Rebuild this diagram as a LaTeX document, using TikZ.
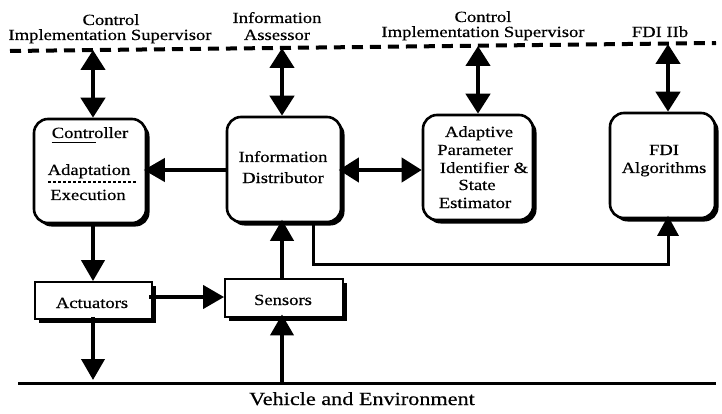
\documentclass[tikz,border=0pt]{standalone}
\usepackage{fontspec}
\setmainfont[FakeStretch=1.2,FakeBold=0.5]{Liberation Serif}
\usetikzlibrary{arrows.meta,shadows}

\begin{document}
\begin{tikzpicture}[x=1pt,y=-1pt,
  shade/.style={drop shadow={shadow xshift=3.5pt,shadow yshift=-3.5pt,fill=black,opacity=1}},
  box/.style={draw,line width=2.6pt,fill=white,rounded corners=14pt,inner sep=0pt,shade},
  sqbox/.style={draw,line width=1.8pt,fill=white,inner sep=0pt,shade},
  link/.style={line width=4pt,-{Triangle[length=21pt,width=23pt]}},
  thinlink/.style={line width=3pt,-{Triangle[length=20pt,width=21pt]}},
  both/.style={line width=4.5pt,{Triangle[length=20pt,width=24pt]}-{Triangle[length=20pt,width=24pt]}},
  lbl/.style={font=\fontsize{15.5}{16}\selectfont,inner sep=0pt,anchor=base},
]
\useasboundingbox (0,0) rectangle (722,414);

% supervisory level (dashed boundary) and its labels
\draw[line width=4pt,dash pattern=on 11pt off 7pt] (10,51) -- (716,43);
\node[lbl] (h1a) at (111,25) {Control};
\node[lbl] (h1b) at (110,40) {Implementation Supervisor};
\node[lbl] (h2a) at (277,23) {Information};
\node[lbl] (h2b) at (277,40) {Assessor};
\node[lbl] (h3a) at (483,22) {Control};
\node[lbl] (h3b) at (483,37) {Implementation Supervisor};
\node[lbl] (h4)  at (660,37) {FDI IIb};

% main blocks
\node[box,minimum width=112pt,minimum height=104pt] (ctrl)  at (90,171) {};
\node[box,minimum width=114pt,minimum height=105pt] (info)  at (284,169.5) {};
\node[box,minimum width=110pt,minimum height=105pt] (adapt) at (478,167.5) {};
\node[box,minimum width=105pt,minimum height=105pt] (fdi)   at (662.5,165.5) {};
\node[sqbox,minimum width=117pt,minimum height=37pt] (act)  at (93.5,300.5) {};
\node[sqbox,minimum width=118pt,minimum height=38pt] (sens) at (284,298) {};

% block texts
\node[lbl] (ctl) at (90,138) {Controller};
\draw[line width=1.5pt] ([yshift=-4pt]ctl.south west) -- ([yshift=-4pt,xshift=44pt]ctl.south west);
\node[lbl] (ada) at (89,175) {Adaptation};
\node[lbl] (exe) at (88,200) {Execution};
\draw[line width=1.2pt,dash pattern=on 3pt off 2pt] (48,182) -- (136,182);

\node[lbl] (inf1) at (283,162) {Information};
\node[lbl] (inf2) at (283,183) {Distributor};

\node[lbl] (ap1) at (479,137) {Adaptive};
\node[lbl] (ap2) at (475,155) {Parameter};
\node[lbl] (ap3) at (484,173) {Identifier \&};
\node[lbl] (ap4) at (477,190) {State};
\node[lbl] (ap5) at (475,208) {Estimator};

\node[lbl] (fd1) at (664,155) {FDI};
\node[lbl] (fd2) at (664,173) {Algorithms};

\node[lbl] (actt) at (92,308) {Actuators};
\node[lbl] (sent) at (283,305) {Sensors};

% vehicle boundary
\coordinate (gL) at (18,383);
\coordinate (gR) at (716,383);
\draw[line width=3pt] (gL) -- (gR);
\node[font=\fontsize{18.5}{20}\selectfont,inner sep=0pt,anchor=base] (veh) at (362,405) {Vehicle and Environment};

% column positions of the vertical connectors
\coordinate (t1) at (93,50);
\coordinate (t2) at (282,48);
\coordinate (t3) at (478,46);
\coordinate (t4) at (668,44);

% links to the supervisory level
\draw[both] (t1) -- (t1 |- ctrl.north);
\draw[both] (t2) -- (t2 |- info.north);
\draw[both] (t3) -- (t3 |- adapt.north);
\draw[both] (t4) -- (t4 |- fdi.north);

% horizontal links
\draw[link,shorten >=-3.5pt] (info.west |- 0,170) -- (ctrl.east |- 0,170);
\draw[both,line width=4pt,shorten <=-3.5pt] (info.east |- 0,170) -- (adapt.west |- 0,170);
\draw[link,shorten <=-3.5pt] (act.east |- 0,297) -- (sens.west |- 0,297);

% information distributor to FDI
\coordinate (c1) at (313,264);
\coordinate (c2) at (668,264);
\draw[thinlink,shorten >=-3.5pt] (c1 |- info.south) -- (c1) -- (c2) -- (c2 |- fdi.south);

% vertical links
\draw[link] (t1 |- ctrl.south) -- (t1 |- act.north);
\draw[link,shorten <=-3pt] (t1 |- act.south) -- ([yshift=3pt]t1 |- gL);
\draw[link,shorten >=-3.5pt] (t2 |- sens.north) -- (t2 |- info.south);
\draw[link,shorten >=-3.5pt] (t2 |- gL) -- (t2 |- sens.south);
\end{tikzpicture}
\end{document}
